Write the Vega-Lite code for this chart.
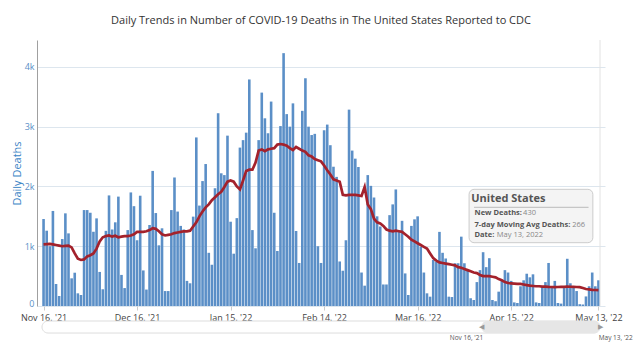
{
  "$schema": "https://vega.github.io/schema/vega-lite/v6.json",
  "width": 568,
  "height": 266,
  "autosize": {"type": "none"},
  "padding": {"left": 37, "top": 40, "right": 35, "bottom": 47},
  "background": "white",
  "config": {"font": "Open Sans", "view": {"stroke": null}},
  "title": {"text": "Daily Trends in Number of COVID-19 Deaths in The United States Reported to CDC", "fontSize": 11, "fontWeight": "normal", "color": "#333333", "frame": "group", "anchor": "middle", "offset": 14},
  "data": {
    "format": {"parse": {"date": "utc:'%Y-%m-%d'"}},
    "values": [
      {"date": "2021-11-16", "deaths": 1455, "avg": 1030},
      {"date": "2021-11-17", "deaths": 1260, "avg": 1035},
      {"date": "2021-11-18", "deaths": 1000, "avg": 1040},
      {"date": "2021-11-19", "deaths": 1590, "avg": 1030},
      {"date": "2021-11-20", "deaths": 368, "avg": 1020},
      {"date": "2021-11-21", "deaths": 167, "avg": 1010},
      {"date": "2021-11-22", "deaths": 1120, "avg": 1000},
      {"date": "2021-11-23", "deaths": 1550, "avg": 1005},
      {"date": "2021-11-24", "deaths": 1215, "avg": 1010},
      {"date": "2021-11-25", "deaths": 463, "avg": 980},
      {"date": "2021-11-26", "deaths": 557, "avg": 880},
      {"date": "2021-11-27", "deaths": 212, "avg": 790},
      {"date": "2021-11-28", "deaths": 184, "avg": 770},
      {"date": "2021-11-29", "deaths": 1605, "avg": 780},
      {"date": "2021-11-30", "deaths": 1605, "avg": 830},
      {"date": "2021-12-01", "deaths": 1560, "avg": 850},
      {"date": "2021-12-02", "deaths": 1242, "avg": 880},
      {"date": "2021-12-03", "deaths": 1466, "avg": 960},
      {"date": "2021-12-04", "deaths": 570, "avg": 1080},
      {"date": "2021-12-05", "deaths": 280, "avg": 1150},
      {"date": "2021-12-06", "deaths": 1257, "avg": 1170},
      {"date": "2021-12-07", "deaths": 1850, "avg": 1180},
      {"date": "2021-12-08", "deaths": 1280, "avg": 1160},
      {"date": "2021-12-09", "deaths": 1400, "avg": 1175},
      {"date": "2021-12-10", "deaths": 1830, "avg": 1150},
      {"date": "2021-12-11", "deaths": 520, "avg": 1160},
      {"date": "2021-12-12", "deaths": 300, "avg": 1170},
      {"date": "2021-12-13", "deaths": 1270, "avg": 1170},
      {"date": "2021-12-14", "deaths": 1900, "avg": 1180},
      {"date": "2021-12-15", "deaths": 1670, "avg": 1200},
      {"date": "2021-12-16", "deaths": 1100, "avg": 1240},
      {"date": "2021-12-17", "deaths": 1845, "avg": 1240},
      {"date": "2021-12-18", "deaths": 595, "avg": 1240},
      {"date": "2021-12-19", "deaths": 275, "avg": 1250},
      {"date": "2021-12-20", "deaths": 1355, "avg": 1270},
      {"date": "2021-12-21", "deaths": 2260, "avg": 1300},
      {"date": "2021-12-22", "deaths": 1555, "avg": 1290},
      {"date": "2021-12-23", "deaths": 1015, "avg": 1250},
      {"date": "2021-12-24", "deaths": 1300, "avg": 1200},
      {"date": "2021-12-25", "deaths": 250, "avg": 1180},
      {"date": "2021-12-26", "deaths": 250, "avg": 1190},
      {"date": "2021-12-27", "deaths": 1605, "avg": 1200},
      {"date": "2021-12-28", "deaths": 2150, "avg": 1220},
      {"date": "2021-12-29", "deaths": 1580, "avg": 1230},
      {"date": "2021-12-30", "deaths": 1340, "avg": 1240},
      {"date": "2021-12-31", "deaths": 1280, "avg": 1250},
      {"date": "2022-01-01", "deaths": 420, "avg": 1250},
      {"date": "2022-01-02", "deaths": 380, "avg": 1260},
      {"date": "2022-01-03", "deaths": 1495, "avg": 1330},
      {"date": "2022-01-04", "deaths": 2820, "avg": 1400},
      {"date": "2022-01-05", "deaths": 1680, "avg": 1500},
      {"date": "2022-01-06", "deaths": 2090, "avg": 1580},
      {"date": "2022-01-07", "deaths": 2375, "avg": 1650},
      {"date": "2022-01-08", "deaths": 890, "avg": 1700},
      {"date": "2022-01-09", "deaths": 690, "avg": 1770},
      {"date": "2022-01-10", "deaths": 1970, "avg": 1820},
      {"date": "2022-01-11", "deaths": 3225, "avg": 1870},
      {"date": "2022-01-12", "deaths": 2220, "avg": 1910},
      {"date": "2022-01-13", "deaths": 2190, "avg": 1990},
      {"date": "2022-01-14", "deaths": 2850, "avg": 2080},
      {"date": "2022-01-15", "deaths": 1410, "avg": 2100},
      {"date": "2022-01-16", "deaths": 875, "avg": 2080},
      {"date": "2022-01-17", "deaths": 1470, "avg": 2000},
      {"date": "2022-01-18", "deaths": 2650, "avg": 1950},
      {"date": "2022-01-19", "deaths": 2775, "avg": 2100},
      {"date": "2022-01-20", "deaths": 2900, "avg": 2260},
      {"date": "2022-01-21", "deaths": 3790, "avg": 2280},
      {"date": "2022-01-22", "deaths": 1270, "avg": 2280},
      {"date": "2022-01-23", "deaths": 965, "avg": 2400},
      {"date": "2022-01-24", "deaths": 2775, "avg": 2600},
      {"date": "2022-01-25", "deaths": 3570, "avg": 2620},
      {"date": "2022-01-26", "deaths": 3140, "avg": 2590},
      {"date": "2022-01-27", "deaths": 2890, "avg": 2620},
      {"date": "2022-01-28", "deaths": 3420, "avg": 2630},
      {"date": "2022-01-29", "deaths": 1560, "avg": 2640},
      {"date": "2022-01-30", "deaths": 920, "avg": 2700},
      {"date": "2022-01-31", "deaths": 3010, "avg": 2710},
      {"date": "2022-02-01", "deaths": 4230, "avg": 2700},
      {"date": "2022-02-02", "deaths": 3210, "avg": 2680},
      {"date": "2022-02-03", "deaths": 3000, "avg": 2640},
      {"date": "2022-02-04", "deaths": 3390, "avg": 2610},
      {"date": "2022-02-05", "deaths": 1255, "avg": 2660},
      {"date": "2022-02-06", "deaths": 720, "avg": 2630},
      {"date": "2022-02-07", "deaths": 3265, "avg": 2600},
      {"date": "2022-02-08", "deaths": 3810, "avg": 2580},
      {"date": "2022-02-09", "deaths": 3000, "avg": 2520},
      {"date": "2022-02-10", "deaths": 2860, "avg": 2500},
      {"date": "2022-02-11", "deaths": 2880, "avg": 2460},
      {"date": "2022-02-12", "deaths": 1000, "avg": 2440},
      {"date": "2022-02-13", "deaths": 720, "avg": 2420},
      {"date": "2022-02-14", "deaths": 2940, "avg": 2350},
      {"date": "2022-02-15", "deaths": 3035, "avg": 2270},
      {"date": "2022-02-16", "deaths": 2690, "avg": 2200},
      {"date": "2022-02-17", "deaths": 2330, "avg": 2120},
      {"date": "2022-02-18", "deaths": 2160, "avg": 2100},
      {"date": "2022-02-19", "deaths": 745, "avg": 2080},
      {"date": "2022-02-20", "deaths": 590, "avg": 1860},
      {"date": "2022-02-21", "deaths": 1100, "avg": 1850},
      {"date": "2022-02-22", "deaths": 3285, "avg": 1860},
      {"date": "2022-02-23", "deaths": 2600, "avg": 1860},
      {"date": "2022-02-24", "deaths": 2465, "avg": 1860},
      {"date": "2022-02-25", "deaths": 2325, "avg": 1850},
      {"date": "2022-02-26", "deaths": 560, "avg": 1840},
      {"date": "2022-02-27", "deaths": 340, "avg": 1990},
      {"date": "2022-02-28", "deaths": 2190, "avg": 1700},
      {"date": "2022-03-01", "deaths": 2010, "avg": 1620},
      {"date": "2022-03-02", "deaths": 1815, "avg": 1460},
      {"date": "2022-03-03", "deaths": 1500, "avg": 1400},
      {"date": "2022-03-04", "deaths": 1330, "avg": 1380},
      {"date": "2022-03-05", "deaths": 360, "avg": 1340},
      {"date": "2022-03-06", "deaths": 360, "avg": 1280},
      {"date": "2022-03-07", "deaths": 1520, "avg": 1260},
      {"date": "2022-03-08", "deaths": 1700, "avg": 1250},
      {"date": "2022-03-09", "deaths": 1950, "avg": 1260},
      {"date": "2022-03-10", "deaths": 1250, "avg": 1250},
      {"date": "2022-03-11", "deaths": 1425, "avg": 1240},
      {"date": "2022-03-12", "deaths": 545, "avg": 1200},
      {"date": "2022-03-13", "deaths": 184, "avg": 1160},
      {"date": "2022-03-14", "deaths": 1340, "avg": 1110},
      {"date": "2022-03-15", "deaths": 1450, "avg": 1080},
      {"date": "2022-03-16", "deaths": 1500, "avg": 1050},
      {"date": "2022-03-17", "deaths": 990, "avg": 1020},
      {"date": "2022-03-18", "deaths": 560, "avg": 990},
      {"date": "2022-03-19", "deaths": 212, "avg": 960},
      {"date": "2022-03-20", "deaths": 156, "avg": 880},
      {"date": "2022-03-21", "deaths": 770, "avg": 800},
      {"date": "2022-03-22", "deaths": 740, "avg": 760},
      {"date": "2022-03-23", "deaths": 1240, "avg": 730},
      {"date": "2022-03-24", "deaths": 890, "avg": 720},
      {"date": "2022-03-25", "deaths": 795, "avg": 710},
      {"date": "2022-03-26", "deaths": 156, "avg": 700},
      {"date": "2022-03-27", "deaths": 150, "avg": 690},
      {"date": "2022-03-28", "deaths": 715, "avg": 680},
      {"date": "2022-03-29", "deaths": 715, "avg": 650},
      {"date": "2022-03-30", "deaths": 1160, "avg": 640},
      {"date": "2022-03-31", "deaths": 715, "avg": 620},
      {"date": "2022-04-01", "deaths": 600, "avg": 600},
      {"date": "2022-04-02", "deaths": 130, "avg": 580},
      {"date": "2022-04-03", "deaths": 100, "avg": 560},
      {"date": "2022-04-04", "deaths": 400, "avg": 550},
      {"date": "2022-04-05", "deaths": 600, "avg": 520},
      {"date": "2022-04-06", "deaths": 900, "avg": 500},
      {"date": "2022-04-07", "deaths": 650, "avg": 500},
      {"date": "2022-04-08", "deaths": 800, "avg": 500},
      {"date": "2022-04-09", "deaths": 100, "avg": 490},
      {"date": "2022-04-10", "deaths": 80, "avg": 480},
      {"date": "2022-04-11", "deaths": 240, "avg": 450},
      {"date": "2022-04-12", "deaths": 435, "avg": 430},
      {"date": "2022-04-13", "deaths": 600, "avg": 400},
      {"date": "2022-04-14", "deaths": 560, "avg": 385},
      {"date": "2022-04-15", "deaths": 420, "avg": 380},
      {"date": "2022-04-16", "deaths": 60, "avg": 375},
      {"date": "2022-04-17", "deaths": 50, "avg": 370},
      {"date": "2022-04-18", "deaths": 330, "avg": 370},
      {"date": "2022-04-19", "deaths": 430, "avg": 360},
      {"date": "2022-04-20", "deaths": 540, "avg": 350},
      {"date": "2022-04-21", "deaths": 480, "avg": 340},
      {"date": "2022-04-22", "deaths": 530, "avg": 335},
      {"date": "2022-04-23", "deaths": 60, "avg": 330},
      {"date": "2022-04-24", "deaths": 50, "avg": 330},
      {"date": "2022-04-25", "deaths": 330, "avg": 325},
      {"date": "2022-04-26", "deaths": 400, "avg": 325},
      {"date": "2022-04-27", "deaths": 720, "avg": 320},
      {"date": "2022-04-28", "deaths": 330, "avg": 318},
      {"date": "2022-04-29", "deaths": 420, "avg": 315},
      {"date": "2022-04-30", "deaths": 50, "avg": 318},
      {"date": "2022-05-01", "deaths": 40, "avg": 320},
      {"date": "2022-05-02", "deaths": 300, "avg": 320},
      {"date": "2022-05-03", "deaths": 790, "avg": 325},
      {"date": "2022-05-04", "deaths": 380, "avg": 322},
      {"date": "2022-05-05", "deaths": 330, "avg": 320},
      {"date": "2022-05-06", "deaths": 250, "avg": 318},
      {"date": "2022-05-07", "deaths": 30, "avg": 315},
      {"date": "2022-05-08", "deaths": 25, "avg": 300},
      {"date": "2022-05-09", "deaths": 160, "avg": 285},
      {"date": "2022-05-10", "deaths": 330, "avg": 278},
      {"date": "2022-05-11", "deaths": 560, "avg": 270},
      {"date": "2022-05-12", "deaths": 330, "avg": 268},
      {"date": "2022-05-13", "deaths": 430, "avg": 266}
    ]
  },
  "layer": [
    {
      "mark": {"type": "bar", "size": 2.6, "color": "#5b8fc7"},
      "encoding": {
        "x": {
          "field": "date", "type": "temporal",
          "scale": {"type": "utc", "domain": [{"year": 2021, "month": 11, "date": 15, "hours": 12, "utc": true}, {"year": 2022, "month": 5, "date": 13, "hours": 12, "utc": true}]},
          "axis": {
            "title": null, "grid": false, "domain": false,
            "values": [
              {"year": 2021, "month": 11, "date": 16, "utc": true},
              {"year": 2021, "month": 12, "date": 16, "utc": true},
              {"year": 2022, "month": 1, "date": 15, "utc": true},
              {"year": 2022, "month": 2, "date": 14, "utc": true},
              {"year": 2022, "month": 3, "date": 16, "utc": true},
              {"year": 2022, "month": 4, "date": 15, "utc": true},
              {"year": 2022, "month": 5, "date": 13, "utc": true}
            ],
            "labelExpr": "utcFormat(datum.value, \"%b %d, '%y\")",
            "labelFontSize": 9, "labelColor": "#444444", "labelPadding": 3,
            "tickSize": 4, "tickColor": "#cccccc",
            "labelOverlap": false, "labelBound": false, "labelFlush": false
          }
        },
        "y": {
          "field": "deaths", "type": "quantitative",
          "scale": {"domain": [0, 4450], "nice": false},
          "axis": {
            "title": "Daily Deaths", "titleColor": "#3d85c6", "titleFontSize": 11, "titleFontWeight": "normal", "titlePadding": 2,
            "values": [0, 1000, 2000, 3000, 4000],
            "labelExpr": "datum.value == 0 ? '0' : (datum.value / 1000) + 'k'",
            "labelFontSize": 9, "labelColor": "#5b8fc7", "labelPadding": 3,
            "labelOffset": {"condition": {"test": "datum.value == 0", "value": -3}, "value": 0},
            "ticks": false, "grid": true, "gridColor": "#dde6ee",
            "domain": true, "domainColor": "#a0a0a0"
          }
        }
      }
    },
    {
      "mark": {"type": "line", "color": "#a3222c", "strokeWidth": 2.7},
      "encoding": {
        "x": {"field": "date", "type": "temporal"},
        "y": {"field": "avg", "type": "quantitative"}
      }
    },
    {
      "data": {"values": [{}]},
      "mark": {"type": "rule", "color": "#e2e2e2", "strokeWidth": 1},
      "encoding": {
        "x": {"datum": {"year": 2022, "month": 5, "date": 13, "hours": 12, "utc": true}, "type": "temporal"},
        "y": {"datum": 0, "type": "quantitative"},
        "y2": {"datum": 4450}
      }
    },
    {
      "data": {"values": [{}]},
      "mark": {"type": "rect", "fill": "#f4f4f4", "stroke": "#cccccc", "strokeWidth": 1, "cornerRadius": 5},
      "encoding": {
        "x": {"datum": {"year": 2022, "month": 4, "date": 1, "hours": 12, "utc": true}, "type": "temporal"},
        "x2": {"datum": {"year": 2022, "month": 5, "date": 11, "hours": 5, "utc": true}},
        "y": {"datum": 1952, "type": "quantitative"},
        "y2": {"datum": 1059}
      }
    },
    {
      "data": {"values": [{}]},
      "mark": {"type": "text", "text": "United States", "fontSize": 11, "fontWeight": "bold", "color": "#555555", "align": "left", "baseline": "middle"},
      "encoding": {
        "x": {"datum": {"year": 2022, "month": 4, "date": 2, "hours": 5, "utc": true}, "type": "temporal"},
        "y": {"datum": 1785, "type": "quantitative"}
      }
    },
    {
      "data": {"values": [{}]},
      "mark": {"type": "rule", "color": "#bbbbbb", "strokeWidth": 1},
      "encoding": {
        "x": {"datum": {"year": 2022, "month": 4, "date": 3, "hours": 2, "utc": true}, "type": "temporal"},
        "x2": {"datum": {"year": 2022, "month": 5, "date": 9, "hours": 20, "utc": true}},
        "y": {"datum": 1651, "type": "quantitative"}
      }
    },
    {
      "data": {"values": [{}]},
      "mark": {"type": "text", "text": "New Deaths:", "fontSize": 7.5, "fontWeight": "bold", "color": "#555555", "align": "left", "baseline": "middle"},
      "encoding": {
        "x": {"datum": {"year": 2022, "month": 4, "date": 3, "hours": 6, "utc": true}, "type": "temporal"},
        "y": {"datum": 1551, "type": "quantitative"}
      }
    },
    {
      "data": {"values": [{}]},
      "mark": {"type": "text", "text": "430", "fontSize": 7.5, "color": "#888888", "align": "left", "baseline": "middle"},
      "encoding": {
        "x": {"datum": {"year": 2022, "month": 4, "date": 18, "hours": 20, "utc": true}, "type": "temporal"},
        "y": {"datum": 1551, "type": "quantitative"}
      }
    },
    {
      "data": {"values": [{}]},
      "mark": {"type": "text", "text": "7-day Moving Avg Deaths:", "fontSize": 7.5, "fontWeight": "bold", "color": "#555555", "align": "left", "baseline": "middle"},
      "encoding": {
        "x": {"datum": {"year": 2022, "month": 4, "date": 3, "hours": 6, "utc": true}, "type": "temporal"},
        "y": {"datum": 1360, "type": "quantitative"}
      }
    },
    {
      "data": {"values": [{}]},
      "mark": {"type": "text", "text": "266", "fontSize": 7.5, "color": "#888888", "align": "left", "baseline": "middle"},
      "encoding": {
        "x": {"datum": {"year": 2022, "month": 5, "date": 4, "hours": 14, "utc": true}, "type": "temporal"},
        "y": {"datum": 1360, "type": "quantitative"}
      }
    },
    {
      "data": {"values": [{}]},
      "mark": {"type": "text", "text": "Date:", "fontSize": 7.5, "fontWeight": "bold", "color": "#555555", "align": "left", "baseline": "middle"},
      "encoding": {
        "x": {"datum": {"year": 2022, "month": 4, "date": 3, "hours": 6, "utc": true}, "type": "temporal"},
        "y": {"datum": 1180, "type": "quantitative"}
      }
    },
    {
      "data": {"values": [{}]},
      "mark": {"type": "text", "text": "May 13, 2022", "fontSize": 7.5, "color": "#888888", "align": "left", "baseline": "middle"},
      "encoding": {
        "x": {"datum": {"year": 2022, "month": 4, "date": 10, "hours": 10, "utc": true}, "type": "temporal"},
        "y": {"datum": 1180, "type": "quantitative"}
      }
    },
    {
      "data": {"values": [{}]},
      "mark": {"type": "rect", "fill": "white", "stroke": "#dddddd", "strokeWidth": 1, "cornerRadius": 6},
      "encoding": {
        "x": {"datum": {"year": 2021, "month": 11, "date": 15, "hours": 12, "utc": true}, "type": "temporal"},
        "x2": {"datum": {"year": 2022, "month": 5, "date": 13, "hours": 12, "utc": true}},
        "y": {"datum": -251, "type": "quantitative"},
        "y2": {"datum": -452}
      }
    },
    {
      "data": {"values": [{}]},
      "mark": {"type": "rect", "fill": "#e6e6e6", "cornerRadius": 6},
      "encoding": {
        "x": {"datum": {"year": 2022, "month": 4, "date": 5, "hours": 10, "utc": true}, "type": "temporal"},
        "x2": {"datum": {"year": 2022, "month": 5, "date": 13, "hours": 12, "utc": true}},
        "y": {"datum": -251, "type": "quantitative"},
        "y2": {"datum": -452}
      }
    },
    {
      "data": {"values": [{}]},
      "mark": {"type": "text", "text": "◀", "fontSize": 7, "color": "#999999", "align": "center", "baseline": "middle"},
      "encoding": {
        "x": {"datum": {"year": 2022, "month": 4, "date": 5, "hours": 10, "utc": true}, "type": "temporal"},
        "y": {"datum": -351, "type": "quantitative"}
      }
    },
    {
      "data": {"values": [{}]},
      "mark": {"type": "text", "text": "▶", "fontSize": 7, "color": "#999999", "align": "center", "baseline": "middle"},
      "encoding": {
        "x": {"datum": {"year": 2022, "month": 5, "date": 13, "hours": 19, "utc": true}, "type": "temporal"},
        "y": {"datum": -351, "type": "quantitative"}
      }
    },
    {
      "data": {"values": [{}]},
      "mark": {"type": "text", "text": "Nov 16, '21", "fontSize": 6.5, "color": "#555555", "align": "center", "baseline": "middle"},
      "encoding": {
        "x": {"datum": {"year": 2022, "month": 3, "date": 31, "hours": 16, "utc": true}, "type": "temporal"},
        "y": {"datum": -535, "type": "quantitative"}
      }
    },
    {
      "data": {"values": [{}]},
      "mark": {"type": "text", "text": "May 13, '22", "fontSize": 6.5, "color": "#555555", "align": "center", "baseline": "middle"},
      "encoding": {
        "x": {"datum": {"year": 2022, "month": 5, "date": 18, "hours": 13, "utc": true}, "type": "temporal"},
        "y": {"datum": -535, "type": "quantitative"}
      }
    }
  ]
}
